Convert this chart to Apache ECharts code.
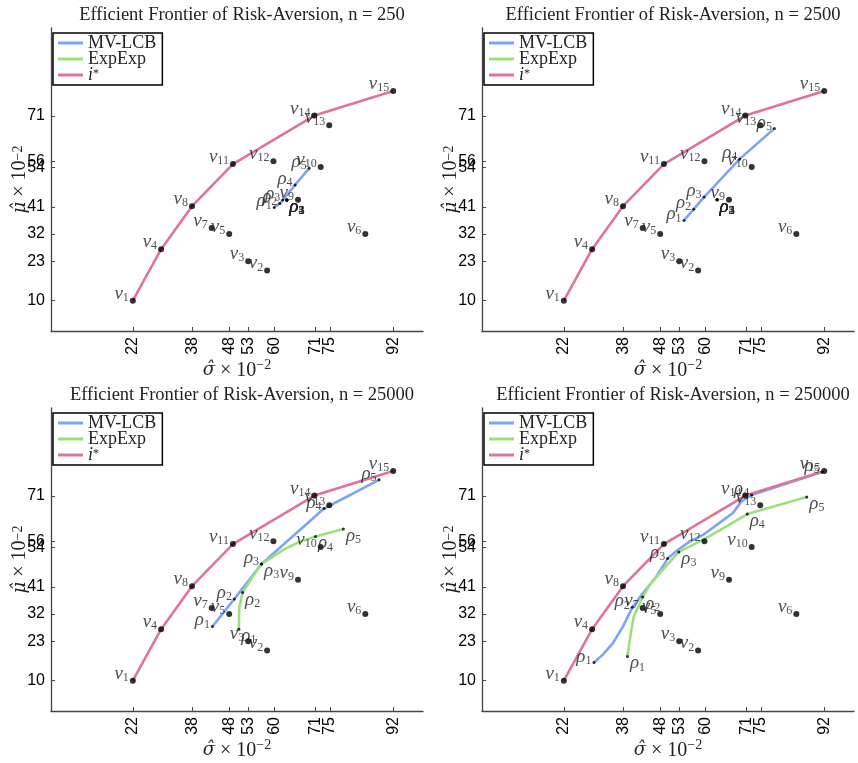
<!DOCTYPE html>
<html>
<head>
<meta charset="utf-8">
<script src="https://cdn.jsdelivr.net/npm/echarts@6/dist/echarts.min.js"></script>
<style>html,body{margin:0;padding:0;background:#fff}#c{width:858px;height:763px}</style>
</head>
<body>
<div id="c"></div>
<script>
// ---- data (values in units of 10^-2) ----
const xTicks = [22, 38, 48, 53, 60, 71, 75, 92];
const yTicks = [10, 23, 32, 41, 54, 56, 71];
const titles = ['Efficient Frontier of Risk-Aversion, n = 250',
                'Efficient Frontier of Risk-Aversion, n = 2500',
                'Efficient Frontier of Risk-Aversion, n = 25000',
                'Efficient Frontier of Risk-Aversion, n = 250000'];

// arms nu_1 .. nu_15
const nuSigma = [22, 58.1, 53, 29.6, 47.9, 84.5, 43.2, 37.9, 66.4, 72.5, 48.9, 59.8, 74.8, 70.8, 92];
const nuMu    = [10, 20, 23, 27, 32, 32, 34, 41.2, 43.3, 54.1, 55.1, 56, 67.9, 71.1, 79.2];

// i* frontier
const iStarSigma = [22, 29.6, 37.9, 48.9, 70.8, 92];
const iStarMu    = [10, 27, 41.2, 55.1, 71.1, 79.2];

// n = 250
const mv250LineX = [60, 61.5, 62.3, 65.6, 69.4];
const mv250LineY = [40.8, 42.1, 43.2, 48.2, 53.7];
const mv250RhoX  = [60, 61.5, 62.3, 65.6, 69.4];
const mv250RhoY  = [40.8, 42.1, 43.2, 48.2, 53.7];
const ee250LineX = [63.4, 63.4, 63.4, 63.4, 63.4];
const ee250LineY = [43.2, 43.2, 43.2, 43.2, 43.2];
const ee250RhoX  = [63.4, 63.4, 63.4, 63.4, 63.4];
const ee250RhoY  = [43.2, 43.2, 43.2, 43.2, 43.2];

// n = 2500
const mv2500LineX = [54.3, 56.9, 59.7, 69.3, 78.6];
const mv2500LineY = [36.5, 40.2, 44.2, 56.8, 66.8];
const mv2500RhoX  = [54.3, 56.9, 59.7, 69.3, 78.6];
const mv2500RhoY  = [36.5, 40.2, 44.2, 56.8, 66.8];
const ee2500LineX = [63.2, 63.2, 63.2, 63.2, 63.2];
const ee2500LineY = [43.3, 43.3, 43.3, 43.3, 43.3];
const ee2500RhoX  = [63.2, 63.2, 63.2, 63.2, 63.2];
const ee2500RhoY  = [43.3, 43.3, 43.3, 43.3, 43.3];

// n = 25000
const mv25kLineX = [43.4, 49.3, 56.6, 73.4, 75.9, 88.2];
const mv25kLineY = [27.9, 37.0, 48.5, 66.8, 68.4, 76.3];
const mv25kRhoX  = [43.4, 49.3, 56.6, 73.4, 88.2];
const mv25kRhoY  = [27.9, 37.0, 48.5, 66.8, 76.3];
const ee25kLineX = [50.5, 50.6, 51.5, 54.0, 56.6, 62.4, 66.9, 71.1, 78.6];
const ee25kLineY = [27.0, 34.0, 39.1, 43.9, 48.5, 53.2, 55.9, 57.6, 60.1];
const ee25kRhoX  = [50.5, 51.5, 56.6, 71.1, 78.6];
const ee25kRhoY  = [27.0, 39.1, 48.5, 57.6, 60.1];

// n = 250000
const mv250kLineX = [30.1, 32.5, 35.2, 37.9, 40.4, 43.3, 46.9, 49.9, 52.7, 55.8, 59.4, 67.4, 69.7, 72.5, 91.4];
const mv250kLineY = [16.0, 18.6, 22.4, 27.9, 34.2, 38.9, 44.4, 50.3, 53.2, 55.9, 58.1, 65.3, 69.1, 71.3, 78.9];
const mv250kRhoX  = [30.1, 40.4, 49.9, 72.5, 91.4];
const mv250kRhoY  = [16.0, 34.2, 50.3, 71.3, 78.9];
const ee250kLineX = [39.1, 40.0, 40.8, 43.2, 45.1, 47.8, 52.9, 59.4, 65.7, 71.3, 87.3];
const ee250kLineY = [18.0, 25.7, 31.2, 37.6, 41.6, 45.5, 52.5, 56.5, 60.9, 65.0, 70.6];
const ee250kRhoX  = [39.1, 43.2, 52.9, 71.3, 87.3];
const ee250kRhoY  = [18.0, 37.6, 52.5, 65.0, 70.6];

const panels = [
  {mvL:[mv250LineX, mv250LineY], mvR:[mv250RhoX, mv250RhoY], eeL:[ee250LineX, ee250LineY], eeR:[ee250RhoX, ee250RhoY]},
  {mvL:[mv2500LineX, mv2500LineY], mvR:[mv2500RhoX, mv2500RhoY], eeL:[ee2500LineX, ee2500LineY], eeR:[ee2500RhoX, ee2500RhoY]},
  {mvL:[mv25kLineX, mv25kLineY], mvR:[mv25kRhoX, mv25kRhoY], eeL:[ee25kLineX, ee25kLineY], eeR:[ee25kRhoX, ee25kRhoY]},
  {mvL:[mv250kLineX, mv250kLineY], mvR:[mv250kRhoX, mv250kRhoY], eeL:[ee250kLineX, ee250kLineY], eeR:[ee250kRhoX, ee250kRhoY]}
];

// ---- styling ----
const BLUE = '#7ba5f6', GREEN = '#9ce07a', PINK = '#e07398';
const SERIF = 'Liberation Serif';
const MATH = 'DejaVu Serif';
const SANS = 'Liberation Sans';
const gridPos = [
  {left: 51, top: 28}, {left: 482, top: 28},
  {left: 51, top: 408}, {left: 482, top: 408}
];
const GW = 372, GH = 303;

function pts(xs, ys) { return xs.map((x, i) => [x, ys[i]]); }

const symRich = {
  g: {fontFamily: SERIF, fontStyle: 'italic', fontSize: 19, lineHeight: 20, color: '#222'},
  s: {fontFamily: SERIF, fontSize: 12, lineHeight: 12, verticalAlign: 'bottom', color: '#222'}
};
const nameRich = {
  h: {fontFamily: MATH, fontStyle: 'italic', fontSize: 18, lineHeight: 24, color: '#222'},
  a: {fontFamily: SERIF, fontSize: 20, lineHeight: 24, color: '#222'},
  b: {fontFamily: SERIF, fontSize: 14, lineHeight: 14, verticalAlign: 'top', color: '#222'}
};
const yNameRich = {
  h: {fontFamily: MATH, fontStyle: 'italic', fontSize: 18, lineHeight: 18, color: '#222'},
  a: {fontFamily: SERIF, fontSize: 20, lineHeight: 18, color: '#222'},
  b: {fontFamily: SERIF, fontSize: 14, lineHeight: 12, verticalAlign: 'top', color: '#222'}
};

const option = {
  animation: false,
  backgroundColor: '#fff',
  title: [], grid: [], xAxis: [], yAxis: [], legend: [], series: []
};

panels.forEach((p, k) => {
  const g = gridPos[k];
  option.grid.push({left: g.left, top: g.top, width: GW, height: GH, containLabel: false});
  option.title.push({
    text: titles[k], left: g.left + GW / 2, top: g.top - 27, textAlign: 'center',
    textStyle: {fontFamily: SERIF, fontWeight: 'normal', fontSize: 18.5, color: '#222'}
  });
  option.xAxis.push({
    gridIndex: k, type: 'value', min: 0, max: 100,
    axisLine: {show: true, onZero: false, lineStyle: {color: '#444', width: 1.3}},
    axisTick: {show: true, inside: true, length: 4, customValues: xTicks, lineStyle: {color: '#444'}},
    axisLabel: {customValues: xTicks, rotate: 90, fontFamily: SANS, fontSize: 16, color: '#000', margin: 6},
    splitLine: {show: false},
    name: '{h|σ̂}{a| × 10}{b|−2}', nameLocation: 'middle', nameGap: 22,
    nameTextStyle: {rich: nameRich}
  });
  option.yAxis.push({
    gridIndex: k, type: 'value', min: 0, max: 100,
    axisLine: {show: true, onZero: false, lineStyle: {color: '#444', width: 1.3}},
    axisTick: {show: true, inside: true, length: 4, customValues: yTicks, lineStyle: {color: '#444'}},
    axisLabel: {customValues: yTicks, fontFamily: SANS, fontSize: 16, color: '#000', margin: 6},
    splitLine: {show: false},
    name: '{h|μ̂}{a| × 10}{b|−2}', nameLocation: 'middle', nameGap: 22, nameRotate: 90,
    nameMoveOverlap: false,
    nameTextStyle: {rich: yNameRich}
  });
  option.legend.push({
    left: g.left + 2, top: g.top + 5, orient: 'vertical',
    data: ['MV-LCB', 'ExpExp', 'i*'],
    icon: 'rect', itemWidth: 25, itemHeight: 3, itemGap: -2,
    borderColor: '#000', borderWidth: 1.5, borderRadius: 0, padding: [1, 6, 1, 5],
    selectedMode: false,
    formatter: n => n === 'i*' ? '{i|i}{t|*}' : '{n|' + n + '}',
    textStyle: {
      lineHeight: 15, color: '#222',
      rich: {
        n: {fontFamily: SERIF, fontSize: 18, lineHeight: 15, color: '#222'},
        i: {fontFamily: SERIF, fontStyle: 'italic', fontSize: 18, lineHeight: 15, color: '#222'},
        t: {fontFamily: SERIF, fontSize: 12, lineHeight: 15, verticalAlign: 'top', color: '#222'}
      }
    }
  });

  // lines
  option.series.push({
    name: 'MV-LCB', type: 'line', xAxisIndex: k, yAxisIndex: k, data: pts(p.mvL[0], p.mvL[1]),
    showSymbol: false, symbol: 'none', color: BLUE, lineStyle: {color: BLUE, width: 2.6}, z: 2, silent: true
  });
  option.series.push({
    name: 'ExpExp', type: 'line', xAxisIndex: k, yAxisIndex: k, data: pts(p.eeL[0], p.eeL[1]),
    showSymbol: false, symbol: 'none', color: GREEN, lineStyle: {color: GREEN, width: 2.6}, z: 2, silent: true
  });
  option.series.push({
    name: 'i*', type: 'line', xAxisIndex: k, yAxisIndex: k, data: pts(iStarSigma, iStarMu),
    showSymbol: false, symbol: 'none', color: PINK, lineStyle: {color: PINK, width: 2.6}, z: 2, silent: true
  });
  // arms
  option.series.push({
    type: 'scatter', xAxisIndex: k, yAxisIndex: k, data: pts(nuSigma, nuMu),
    symbol: 'circle', symbolSize: 6, itemStyle: {color: '#000'}, z: 5, silent: true,
    label: {show: true, position: 'left', distance: 1, offset: [0, -7],
      formatter: q => '{g|ν}{s|' + (q.dataIndex + 1) + '}', rich: symRich}
  });
  // MV-LCB rho points
  option.series.push({
    type: 'scatter', xAxisIndex: k, yAxisIndex: k, data: pts(p.mvR[0], p.mvR[1]),
    symbol: 'circle', symbolSize: 3, itemStyle: {color: '#000'}, z: 6, silent: true,
    label: {show: true, position: 'left', distance: 1, offset: [0, -6],
      formatter: q => '{g|ρ}{s|' + (q.dataIndex + 1) + '}', rich: symRich}
  });
  // ExpExp rho points
  option.series.push({
    type: 'scatter', xAxisIndex: k, yAxisIndex: k, data: pts(p.eeR[0], p.eeR[1]),
    symbol: 'circle', symbolSize: 3, itemStyle: {color: '#000'}, z: 6, silent: true,
    label: {show: true, position: 'right', distance: 1, offset: [0, 7],
      formatter: q => '{g|ρ}{s|' + (q.dataIndex + 1) + '}', rich: symRich}
  });
});

const chart = echarts.init(document.getElementById('c'), null, {renderer: 'canvas'});
chart.setOption(option);
</script>
</body>
</html>
